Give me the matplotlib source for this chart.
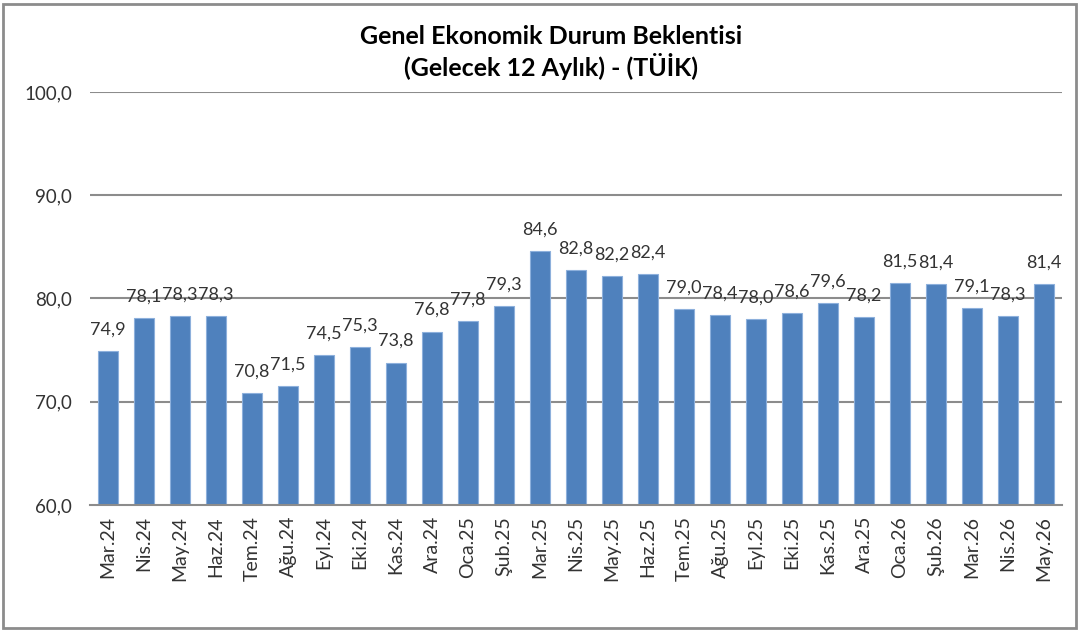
import matplotlib.pyplot as plt
import matplotlib.patches as patches
import numpy as np

# Veri
aylar = ["Mar.24", "Nis.24", "May.24", "Haz.24", "Tem.24", "Ağu.24", "Eyl.24",
         "Eki.24", "Kas.24", "Ara.24", "Oca.25", "Şub.25", "Mar.25", "Nis.25",
         "May.25", "Haz.25", "Tem.25", "Ağu.25", "Eyl.25", "Eki.25", "Kas.25",
         "Ara.25", "Oca.26", "Şub.26", "Mar.26", "Nis.26", "May.26"]
degerler = [74.9, 78.1, 78.3, 78.3, 70.8, 71.5, 74.5, 75.3, 73.8, 76.8, 77.8,
            79.3, 84.6, 82.8, 82.2, 82.4, 79.0, 78.4, 78.0, 78.6, 79.6, 78.2,
            81.5, 81.4, 79.1, 78.3, 81.4]
y_ticks = [60, 70, 80, 90, 100]

plt.rcParams['font.family'] = ['Lato', 'DejaVu Sans']

W, H = 1085, 632
fig = plt.figure(figsize=(W / 100, H / 100), dpi=100)
ax = fig.add_axes([90 / W, 1 - 505 / H, (1062 - 90) / W, (505 - 92) / H])

x = np.arange(len(aylar))
bars = ax.bar(x, degerler, width=0.56, color='#4F81BD', edgecolor='#8DB0DC',
              linewidth=0.8, zorder=2)

ax.set_ylim(60, 100)
ax.set_xlim(-0.5, len(aylar) - 0.5)
ax.set_yticks(y_ticks)
ax.set_yticklabels([f"{v:.1f}".replace('.', ',') for v in y_ticks], fontsize=13.5, color='#333333')
ax.set_xticks(x)
ax.set_xticklabels(aylar, rotation=90, fontsize=14, color='#333333')
ax.tick_params(axis='x', length=0, pad=8)
ax.tick_params(axis='y', length=0, pad=13)

for v in y_ticks[1:]:
    ax.axhline(v, color='#8C8C8C', linewidth=1.5, zorder=1)

for s in ['top', 'right', 'left']:
    ax.spines[s].set_visible(False)
ax.spines['bottom'].set_color('#8C8C8C')
ax.spines['bottom'].set_linewidth(1.5)

# Veri etiketleri
for xi, v in zip(x, degerler):
    ax.text(xi, v + 1.3, f"{v:.1f}".replace('.', ','), ha='center', va='bottom',
            fontsize=13, color='#333333', zorder=3)

fig.text(551 / W, 1 - 37 / H, "Genel Ekonomik Durum Beklentisi", ha='center', va='center',
         fontsize=18, fontweight='bold', color='black')
fig.text(551 / W, 1 - 67 / H, "(Gelecek 12 Aylık) - (TÜİK)", ha='center', va='center',
         fontsize=18, fontweight='bold', color='black')

# Dış çerçeve
rect = patches.Rectangle((3 / W, 1 - 628 / H), (1076 - 3) / W, (628 - 4) / H,
                         transform=fig.transFigure, fill=False, edgecolor='#8C8C8C',
                         linewidth=2)
fig.patches.append(rect)

plt.savefig('out.png', dpi=100)
